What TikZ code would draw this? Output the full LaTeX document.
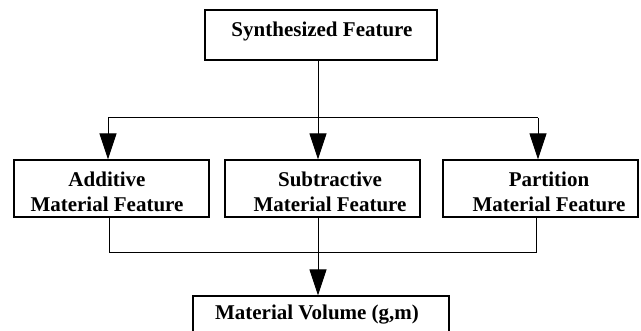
\documentclass[tikz,border=0pt]{standalone}
\usepackage{fontspec}
\setmainfont{Liberation Serif}
\usetikzlibrary{arrows.meta}
\begin{document}
\begin{tikzpicture}[x=1pt,y=-1pt,
  box/.style={draw,line width=1.3pt,rectangle,inner sep=0pt},
  txt/.style={font=\bfseries\fontsize{21}{25}\selectfont,align=center,inner sep=0pt,anchor=base},
  conn/.style={line width=1pt},
  arr/.style={line width=1pt,-{Triangle[length=26pt,width=17pt]}}]
\path[use as bounding box,clip] (0,0) rectangle (641,331);
% boxes
\node[box,minimum width=232pt,minimum height=50pt] (top) at (321,35) {};
\node[box,minimum width=195pt,minimum height=57pt] (add) at (111.5,188.5) {};
\node[box,minimum width=195pt,minimum height=57pt] (sub) at (322.5,188.5) {};
\node[box,minimum width=195pt,minimum height=57pt] (par) at (540.5,188.5) {};
\node[box,minimum width=256pt,minimum height=60pt] (vol) at (321,326) {};
% texts
\node[txt] (ttop) at (322,37) {Synthesized Feature};
\node[txt] (tadd1) at (107,187) {Additive};
\node[txt] (tadd2) at (107,212) {Material Feature};
\node[txt] (tsub1) at (330,187) {Subtractive};
\node[txt] (tsub2) at (330,212) {Material Feature};
\node[txt] (tpar1) at (549,187) {Partition};
\node[txt] (tpar2) at (549,212) {Material Feature};
\node[txt] (tvol) at (317,320) {Material Volume (g,m)};
% junction coordinates
\coordinate (j1) at (318,118);
\coordinate (jl) at (108,118);
\coordinate (jr) at (538,118);
\coordinate (k1) at (318,253);
\coordinate (kl) at (109,253);
\coordinate (kr) at (536,253);
% connectors
\draw[conn] (top.south -| j1) -- (j1);
\draw[conn] (jl) -- (jr);
\draw[arr] (jl) -- (jl |- add.north);
\draw[arr] (j1) -- (j1 |- sub.north);
\draw[arr] (jr) -- (jr |- par.north);
\draw[conn] (add.south -| kl) -- (kl) -- (kr) -- (par.south -| kr);
\draw[conn] (sub.south -| k1) -- (k1);
\draw[arr] (k1) -- (k1 |- vol.north);
\end{tikzpicture}
\end{document}
